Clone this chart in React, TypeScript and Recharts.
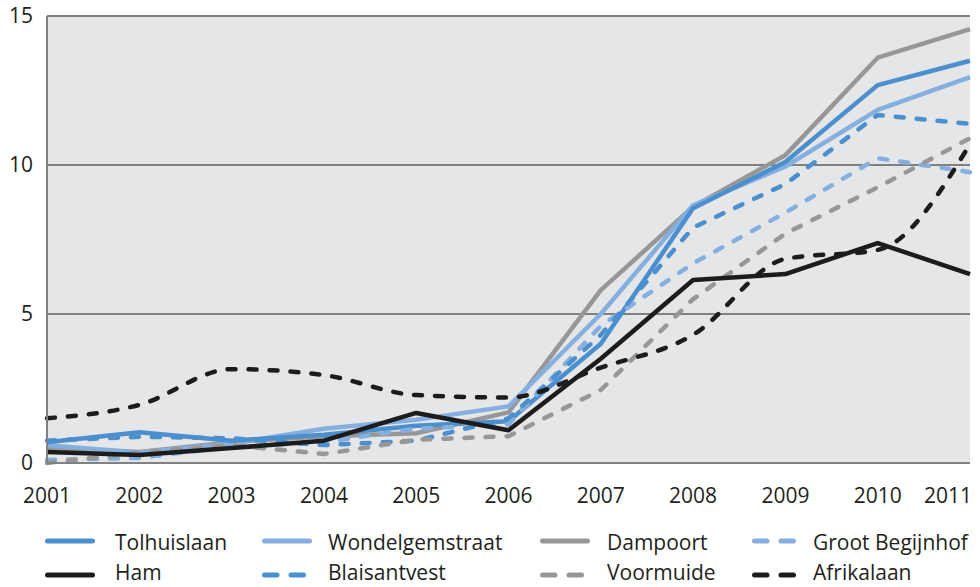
import React from "react";
import { LineChart, Line, XAxis, YAxis, CartesianGrid, Legend } from "recharts";

const years = ["2001", "2002", "2003", "2004", "2005", "2006", "2007", "2008", "2009", "2010", "2011"];
const tolhuislaan = [0.7, 1.03, 0.75, 0.95, 1.25, 1.4, 4.0, 8.55, 10.1, 12.68, 13.5];
const wondelgemstraat = [0.6, 0.35, 0.65, 1.15, 1.45, 1.9, 5.0, 8.65, 9.95, 11.85, 12.95];
const dampoort = [0.5, 0.37, 0.7, 0.9, 1.0, 1.7, 5.8, 8.6, 10.33, 13.6, 14.56];
const grootBegijnhof = [0.1, 0.17, 0.55, 0.7, 1.15, 1.3, 4.6, 6.7, 8.4, 10.23, 9.76];
const ham = [0.37, 0.27, 0.5, 0.75, 1.68, 1.1, 3.5, 6.14, 6.34, 7.38, 6.34];
const blaisantvest = [0.75, 0.88, 0.83, 0.6, 0.75, 1.5, 4.3, 7.9, 9.36, 11.68, 11.38];
const voormuide = [0.0, 0.35, 0.6, 0.3, 0.78, 0.9, 2.45, 5.5, 7.7, 9.25, 10.9];
const afrikalaan = [1.5, 1.95, 3.15, 2.95, 2.28, 2.2, 3.2, 4.3, 6.85, 7.15, 10.7];
const yTicks = [0, 5, 10, 15];

const BLUE = "#4b8fcf";
const LIGHT = "#85afdf";
const GREY = "#979797";
const BLACK = "#1c1c1c";
const TEXT = "#231f20";
const FONT = "'Open Sans', sans-serif";
const DASH = "8 13";

const data = years.map((y, i) => ({
  year: y,
  Tolhuislaan: tolhuislaan[i],
  Wondelgemstraat: wondelgemstraat[i],
  Dampoort: dampoort[i],
  "Groot Begijnhof": grootBegijnhof[i],
  Ham: ham[i],
  Blaisantvest: blaisantvest[i],
  Voormuide: voormuide[i],
  Afrikalaan: afrikalaan[i],
}));

const legendItems = [
  { name: "Tolhuislaan", color: BLUE, dashed: false, col: 0, row: 0 },
  { name: "Wondelgemstraat", color: LIGHT, dashed: false, col: 1, row: 0 },
  { name: "Dampoort", color: GREY, dashed: false, col: 2, row: 0 },
  { name: "Groot Begijnhof", color: LIGHT, dashed: true, col: 3, row: 0 },
  { name: "Ham", color: BLACK, dashed: false, col: 0, row: 1 },
  { name: "Blaisantvest", color: BLUE, dashed: true, col: 1, row: 1 },
  { name: "Voormuide", color: GREY, dashed: true, col: 2, row: 1 },
  { name: "Afrikalaan", color: BLACK, dashed: true, col: 3, row: 1 },
];
const colSym = [45, 262, 540, 752];
const colText = [115, 328, 607, 813];

const LegendBox = () => (
  <svg width={980} height={60} style={{ overflow: "visible", display: "block" }}>
    {legendItems.map((it) => {
      const sy = it.row === 0 ? 14 : 48;
      const ty = it.row === 0 ? 23 : 53;
      const x0 = colSym[it.col];
      return (
        <g key={it.name}>
          {it.dashed ? (
            <>
              <line x1={x0 + 2.5} x2={x0 + 15} y1={sy} y2={sy} stroke={it.color} strokeWidth={5} strokeLinecap="round" />
              <line x1={x0 + 29} x2={x0 + 41.5} y1={sy} y2={sy} stroke={it.color} strokeWidth={5} strokeLinecap="round" />
            </>
          ) : (
            <line x1={x0 + 2.5} x2={x0 + 47.5} y1={sy} y2={sy} stroke={it.color} strokeWidth={5} strokeLinecap="round" />
          )}
          <text x={colText[it.col]} y={ty} fontSize={21} fontFamily={FONT} fill={TEXT}>
            {it.name}
          </text>
        </g>
      );
    })}
  </svg>
);

const XTick = (props: any) => {
  const { x, y, payload, index } = props;
  const shift = index === years.length - 1 ? -22 : 0;
  return (
    <text x={x + shift} y={y + 40} textAnchor="middle" fontSize={21} fontFamily={FONT} fill={TEXT}>
      {payload.value}
    </text>
  );
};

const YTick = (props: any) => {
  const { x, y, payload } = props;
  return (
    <text x={x} y={y + 7} textAnchor="end" fontSize={21} fontFamily={FONT} fill={TEXT}>
      {payload.value}
    </text>
  );
};

const series = [
  { key: "Dampoort", color: GREY, dash: undefined, type: "linear" },
  { key: "Wondelgemstraat", color: LIGHT, dash: undefined, type: "linear" },
  { key: "Tolhuislaan", color: BLUE, dash: undefined, type: "linear" },
  { key: "Groot Begijnhof", color: LIGHT, dash: DASH, type: "linear" },
  { key: "Blaisantvest", color: BLUE, dash: DASH, type: "linear" },
  { key: "Voormuide", color: GREY, dash: DASH, type: "linear" },
  { key: "Afrikalaan", color: BLACK, dash: DASH, type: "monotone" },
  { key: "Ham", color: BLACK, dash: undefined, type: "linear" },
];

export default function App() {
  return (
    <div style={{ position: "absolute", left: 0, top: 0, width: 980, height: 587, background: "#fff" }}>
      <LineChart width={980} height={587} data={data} margin={{ top: 16, right: 10, left: 0, bottom: 34 }}>
        <CartesianGrid vertical={false} fill="#e5e6e8" stroke="#808080" strokeWidth={2} strokeOpacity={1} />
        <XAxis
          dataKey="year"
          height={30}
          padding={{ left: 0, right: 0 }}
          tickLine={false}
          tickSize={0}
          tickMargin={0}
          axisLine={{ stroke: "#808080", strokeWidth: 2 }}
          tick={<XTick />}
          interval={0}
        />
        <YAxis
          width={47}
          domain={[0, 15]}
          ticks={yTicks}
          tickLine={false}
          tickSize={0}
          tickMargin={14}
          axisLine={{ stroke: "#808080", strokeWidth: 2 }}
          tick={<YTick />}
          interval={0}
        />
        <Legend
          verticalAlign="bottom"
          content={() => <LegendBox />}
          wrapperStyle={{ position: "absolute", top: 527, left: 0, width: 980, height: 60 }}
        />
        {series.map((s) => (
          <Line
            key={s.key}
            dataKey={s.key}
            type={s.type as any}
            stroke={s.color}
            strokeWidth={4.5}
            strokeDasharray={s.dash}
            strokeLinecap={s.dash ? "round" : "butt"}
            strokeLinejoin="round"
            dot={false}
            activeDot={false}
            isAnimationActive={false}
          />
        ))}
      </LineChart>
    </div>
  );
}
